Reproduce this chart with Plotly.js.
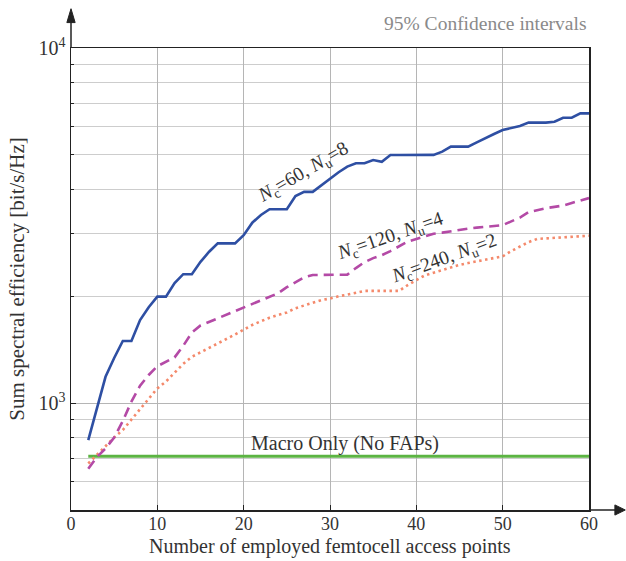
<!DOCTYPE html>
<html>
<head>
<meta charset="utf-8">
<script src="https://cdn.plot.ly/plotly-3.0.1.min.js"></script>
<style>html,body{margin:0;padding:0;background:#fff;}#chart{width:626px;height:561px;}</style>
</head>
<body>
<div id="chart"></div>
<script>
// Number of employed femtocell access points
var fapCount = [2,3,4,5,6,7,8,9,10,11,12,13,14,15,16,17,18,19,20,21,22,23,24,25,26,27,28,29,30,31,32,33,34,35,36,37,38,39,40,41,42,43,44,45,46,47,48,49,50,51,52,53,54,55,56,57,58,59,60];

// Nc=60, Nu=8
var effNc60 = [787,968,1186,1340,1496,1496,1714,1862,1995,1995,2178,2307,2307,2500,2668,2818,2818,2818,2972,3221,3388,3516,3516,3516,3830,3935,3935,4112,4298,4468,4635,4735,4735,4837,4780,4996,4996,4996,4996,4996,5000,5105,5274,5274,5274,5422,5586,5727,5875,5965,6030,6163,6163,6163,6200,6364,6364,6545,6545];

// Nc=120, Nu=4
var effNc120 = [653,705,745,800,890,1010,1120,1200,1270,1310,1345,1450,1580,1654,1694,1735,1776,1819,1863,1907,1953,2000,2040,2120,2190,2260,2295,2295,2295,2295,2300,2400,2494,2560,2610,2680,2760,2850,2900,2950,3000,3020,3050,3080,3100,3120,3140,3150,3170,3250,3330,3450,3500,3540,3570,3600,3660,3720,3780];

// Nc=240, Nu=2
var effNc240 = [676,715,757,800,840,900,960,1030,1100,1150,1220,1290,1350,1390,1430,1470,1510,1560,1610,1660,1700,1740,1770,1800,1850,1880,1910,1950,1970,2000,2020,2040,2070,2070,2070,2060,2070,2150,2220,2290,2330,2370,2410,2450,2480,2510,2540,2560,2590,2680,2760,2840,2900,2910,2920,2920,2930,2950,2960];

// Macro only (no FAPs)
var macroX = [2,60];
var macroEff = [709,709];

var yTickVals = [1000,10000];
var yTickText = ['10<sup>3</sup>','10<sup>4</sup>'];
var yMinorVals = [500,600,700,800,900,2000,3000,4000,5000,6000,7000,8000,9000];
var xTickVals = [0,10,20,30,40,50,60];

var FONT = 'Liberation Serif, Times New Roman, serif';
var TXT = '#333';

var traces = [
  {x: macroX, y: macroEff, mode:'lines', line:{color:'#5cb443', width:3}},
  {x: fapCount, y: effNc240, mode:'lines', line:{color:'#f4896b', width:2.6, dash:'2.5px,3.5px'}},
  {x: fapCount, y: effNc120, mode:'lines', line:{color:'#b44aa6', width:2.6, dash:'10px,6px'}},
  {x: fapCount, y: effNc60, mode:'lines', line:{color:'#2e4fa3', width:2.6}}
];

var layout = {
  width: 626, height: 561,
  margin: {l:71, r:37, t:48, b:51, pad:0},
  paper_bgcolor:'#fff', plot_bgcolor:'#fff',
  showlegend:false,
  font:{family: FONT, size:18, color:TXT},
  xaxis: {
    range:[0,60], tickvals: xTickVals, ticks:'inside', ticklen:5, tickcolor:'#222',
    ticklabelstandoff:-3,
    showline:true, linecolor:'#222', linewidth:1.5, mirror:true,
    showgrid:true, gridcolor:'#b5b5b5', gridwidth:1, zeroline:false,
    tickfont:{family:FONT, size:18, color:TXT}
  },
  yaxis: {
    type:'log', range:[Math.log10(500), 4],
    tickvals: yTickVals, ticktext: yTickText, ticks:'inside', ticklen:5, tickcolor:'#222',
    showline:true, linecolor:'#222', linewidth:1.5, mirror:true,
    showgrid:true, gridcolor:'#b5b5b5', gridwidth:1, zeroline:false,
    tickfont:{family:FONT, size:20, color:TXT},
    minor:{tickvals: yMinorVals, showgrid:true, gridcolor:'#cdcdcd', gridwidth:1, ticks:'inside', ticklen:3, tickcolor:'#222'},
    title:{text:'Sum spectral efficiency [bit/s/Hz]', font:{family:FONT, size:21, color:TXT}, standoff:8}
  },
  annotations: [
    {xref:'paper', yref:'paper', x:0.5, y:-0.108, xanchor:'center', yanchor:'bottom', showarrow:false,
     text:'Number of employed femtocell access points', font:{family:FONT, size:20, color:TXT}},
    {xref:'paper', yref:'paper', x:1, y:1.025, xanchor:'right', yanchor:'bottom', showarrow:false,
     text:'95% Confidence intervals', font:{family:FONT, size:19.5, color:'#8a8a8a'}},
    {x:26.9, y:3.648, text:'<i>N</i><sub>c</sub>=60, <i>N</i><sub>u</sub>=8', showarrow:false, textangle:-30,
     font:{family:FONT, size:19.5, color:TXT}},
    {x:36.95, y:3.468, text:'<i>N</i><sub>c</sub>=120, <i>N</i><sub>u</sub>=4', showarrow:false, textangle:-19,
     font:{family:FONT, size:19.5, color:TXT}},
    {x:43.3, y:3.405, text:'<i>N</i><sub>c</sub>=240, <i>N</i><sub>u</sub>=2', showarrow:false, textangle:-20,
     font:{family:FONT, size:19.5, color:TXT}},
    {x:31.7, y:2.886, text:'Macro Only (No FAPs)', showarrow:false,
     font:{family:FONT, size:20, color:TXT}}
  ],
  shapes: [
    // y-axis arrow
    {type:'line', xref:'paper', yref:'paper', x0:0, x1:0, y0:1, y1:1.07, line:{color:'#222', width:1.5}},
    {type:'path', xref:'paper', yref:'paper', path:'M -0.008 1.055 L 0 1.085 L 0.008 1.055 Z', fillcolor:'#222', line:{color:'#222', width:1}},
    // x-axis arrow
    {type:'line', xref:'paper', yref:'paper', x0:1, x1:1.06, y0:0, y1:0, line:{color:'#222', width:1.5}},
    {type:'path', xref:'paper', yref:'paper', path:'M 1.05 -0.011 L 1.07 0 L 1.05 0.011 Z', fillcolor:'#222', line:{color:'#222', width:1}}
  ]
};

Plotly.newPlot('chart', traces, layout, {displayModeBar:false, staticPlot:true});
</script>
</body>
</html>
